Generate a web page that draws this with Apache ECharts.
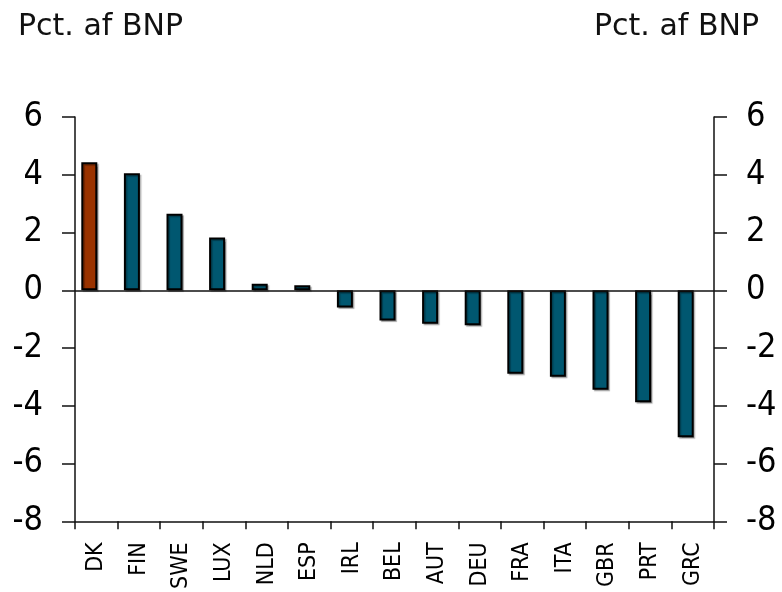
<!DOCTYPE html>
<html>
<head>
<meta charset="utf-8">
<script src="https://cdn.jsdelivr.net/npm/echarts@6/dist/echarts.min.js"></script>
<style>
  html, body { margin: 0; padding: 0; background: #fff; }
  #main { width: 782px; height: 592px; }
</style>
</head>
<body>
<div id="main"></div>
<script>
// lande
var categories = ['DK', 'FIN', 'SWE', 'LUX', 'NLD', 'ESP', 'IRL', 'BEL', 'AUT', 'DEU', 'FRA', 'ITA', 'GBR', 'PRT', 'GRC'];
// pct. af BNP
var values = [4.43, 4.05, 2.65, 1.83, 0.23, 0.17, -0.60, -1.05, -1.16, -1.21, -2.89, -2.99, -3.44, -3.88, -5.09];
var yTicks = [-8, -6, -4, -2, 0, 2, 4, 6];
var unitLabel = 'Pct. af BNP';

var font = 'DejaVu Sans';
var condFont = '"DejaVu Sans Condensed", "DejaVu Sans"';
var dkColor = '#9a3300';
var barColor = '#005770';

var myChart = echarts.init(document.getElementById('main'));

var barData = values.map(function (v, i) {
  return {
    value: v,
    itemStyle: { color: categories[i] === 'DK' ? dkColor : barColor }
  };
});

function yAxisDef(pos) {
  return {
    type: 'value',
    position: pos,
    min: yTicks[0],
    max: yTicks[yTicks.length - 1],
    interval: 2,
    axisLine: { show: true, lineStyle: { color: '#111', width: 1.5 } },
    axisTick: { show: true, length: 13, lineStyle: { color: '#111', width: 1.5 } },
    axisLabel: { fontFamily: condFont, fontSize: 34, color: '#000', margin: 32 },
    splitLine: { show: false }
  };
}

var option = {
  animation: false,
  backgroundColor: '#fff',
  title: [
    { text: unitLabel, left: 13, top: 7, textStyle: { fontFamily: font, fontSize: 30, fontWeight: 'normal', color: '#111' } },
    { text: unitLabel, right: 18, top: 7, textStyle: { fontFamily: font, fontSize: 30, fontWeight: 'normal', color: '#111' } }
  ],
  grid: { left: 75, right: 68, top: 117, bottom: 70, containLabel: false },
  xAxis: {
    type: 'category',
    data: categories,
    position: 'bottom',
    axisLine: { show: true, onZero: false, lineStyle: { color: '#111', width: 1.5 } },
    axisTick: { show: true, length: 8, lineStyle: { color: '#111', width: 1.5 } },
    axisLabel: { rotate: 90, fontFamily: condFont, fontSize: 23, color: '#000', margin: 21, interval: 0 },
    splitLine: { show: false }
  },
  yAxis: [yAxisDef('left'), yAxisDef('right')],
  series: [
    {
      name: unitLabel,
      type: 'bar',
      data: barData,
      barWidth: 16,
      barGap: '0%',
      itemStyle: {
        borderColor: '#000',
        borderWidth: 2,
        shadowColor: 'rgba(0,0,0,0.3)',
        shadowOffsetX: 1.5,
        shadowOffsetY: 1.5,
        shadowBlur: 1
      },
      markLine: {
        silent: true,
        symbol: 'none',
        label: { show: false },
        lineStyle: { color: '#111', width: 1.5, type: 'solid' },
        data: [{ yAxis: 0 }]
      }
    },
    {
      // tom serie, giver samme forskydning som originalen
      name: 'tom',
      type: 'bar',
      data: [],
      barWidth: 14
    }
  ]
};
myChart.setOption(option);
</script>
</body>
</html>
